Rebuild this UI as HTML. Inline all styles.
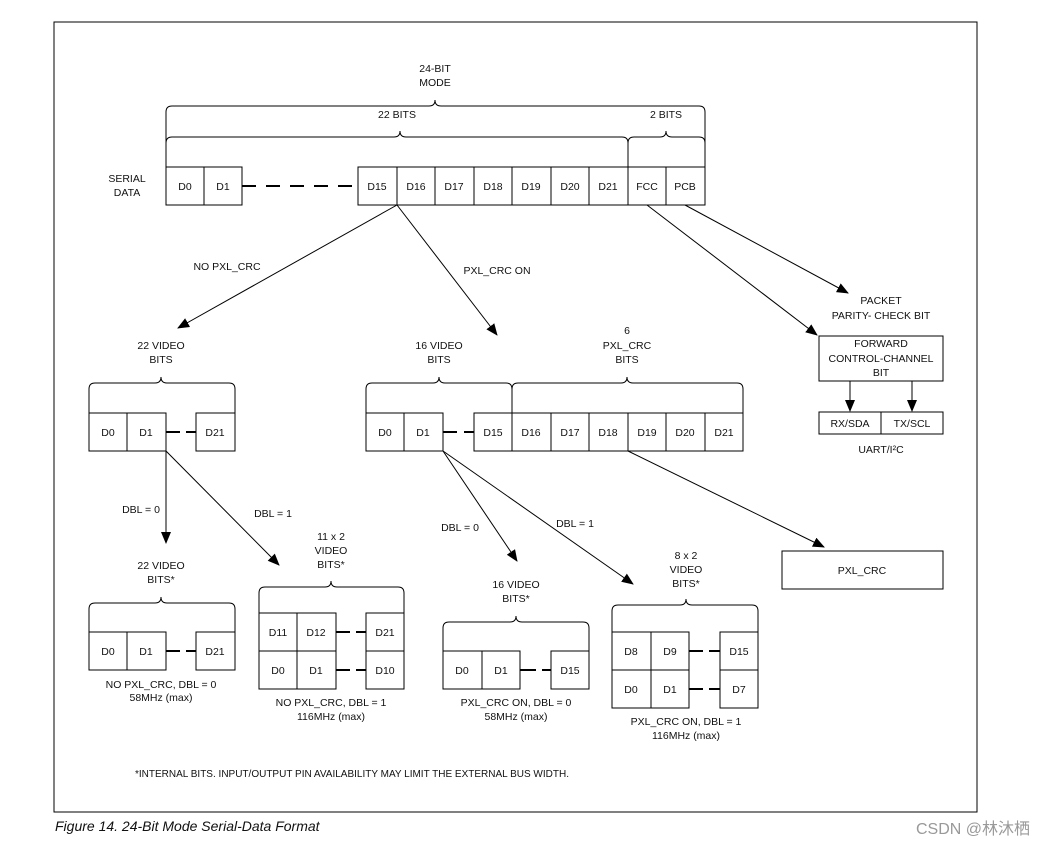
<!DOCTYPE html>
<html><head><meta charset="utf-8"><style>
body{margin:0;background:#fff}
svg text{font-family:"Liberation Sans",sans-serif;font-size:10.5px;fill:#111}
</style></head><body>
<svg width="1044" height="846" viewBox="0 0 1044 846" xmlns="http://www.w3.org/2000/svg">
<defs><marker id="a" markerWidth="12" markerHeight="10" refX="11" refY="5" orient="auto" markerUnits="userSpaceOnUse"><path d="M0,0 L12,5 L0,10 z" fill="#000"/></marker></defs>
<rect x="54" y="22" width="923" height="790" fill="none" stroke="#000" stroke-width="1"/>
<g fill="none" stroke="#000" stroke-width="1">
<path d="M166 167V112Q166 106 172 106H429Q435 106 435 100Q435 106 441 106H699Q705 106 705 112V167"/>
<path d="M166 167V143Q166 137 172 137H394Q400 137 400 131Q400 137 406 137H622Q628 137 628 143V167"/>
<path d="M628 167V143Q628 137 634 137H660Q666 137 666 131Q666 137 672 137H699Q705 137 705 143V167"/>
<path d="M89 413V389Q89 383 95 383H155Q161 383 161 377Q161 383 167 383H229Q235 383 235 389V413"/>
<path d="M366 413V389Q366 383 372 383H433Q439 383 439 377Q439 383 445 383H506Q512 383 512 389V413"/>
<path d="M512 413V389Q512 383 518 383H621Q627 383 627 377Q627 383 633 383H737Q743 383 743 389V451"/>
<path d="M89 632V609Q89 603 95 603H155Q161 603 161 597Q161 603 167 603H229Q235 603 235 609V632"/>
<path d="M259 613V593Q259 587 265 587H325Q331 587 331 581Q331 587 337 587H398Q404 587 404 593V613"/>
<path d="M443 651V628Q443 622 449 622H510Q516 622 516 616Q516 622 522 622H583Q589 622 589 628V651"/>
<path d="M612 632V611Q612 605 618 605H680Q686 605 686 599Q686 605 692 605H752Q758 605 758 611V632"/>
<!-- top row -->
<rect x="166" y="167" width="76" height="38"/><line x1="204" y1="167" x2="204" y2="205"/>
<rect x="358" y="167" width="347" height="38"/>
<path d="M397 167V205M435 167V205M474 167V205M512 167V205M551 167V205M589 167V205M628 167V205M666 167V205"/>
<line x1="242" y1="186" x2="358" y2="186" stroke-width="2" stroke-dasharray="14,10"/>
<!-- mid left -->
<rect x="89" y="413" width="77" height="38"/><line x1="127" y1="413" x2="127" y2="451"/>
<rect x="196" y="413" width="39" height="38"/>
<path d="M166 432H180M186 432H196" stroke-width="2"/>
<!-- mid middle -->
<rect x="366" y="413" width="77" height="38"/><line x1="404" y1="413" x2="404" y2="451"/>
<rect x="474" y="413" width="269" height="38"/>
<path d="M512 413V451M551 413V451M589 413V451M628 413V451M666 413V451M705 413V451"/>
<path d="M443 432H457M464 432H474" stroke-width="2"/>
<!-- forward box -->
<rect x="819" y="336" width="124" height="45"/>
<rect x="819" y="412" width="124" height="22"/><line x1="881" y1="412" x2="881" y2="434"/>
<rect x="782" y="551" width="161" height="38"/>
<!-- bottom -->
<rect x="89" y="632" width="77" height="38"/><line x1="127" y1="632" x2="127" y2="670"/>
<rect x="196" y="632" width="39" height="38"/><path d="M166 651H180M186 651H196" stroke-width="2"/>
<rect x="259" y="613" width="77" height="76"/><path d="M297 613V689M259 651H336"/>
<rect x="366" y="613" width="38" height="76"/><path d="M366 651H404"/>
<path d="M336 632H350M356 632H366M336 670H350M356 670H366" stroke-width="2"/>
<rect x="443" y="651" width="77" height="38"/><line x1="482" y1="651" x2="482" y2="689"/>
<rect x="551" y="651" width="38" height="38"/><path d="M520 670H536M542 670H551" stroke-width="2"/>
<rect x="612" y="632" width="77" height="76"/><path d="M651 632V708M612 670H689"/>
<rect x="720" y="632" width="38" height="76"/><path d="M720 670H758"/>
<path d="M689 651H703M709 651H720M689 689H703M709 689H720" stroke-width="2"/>
<!-- arrows -->
<g marker-end="url(#a)">
<line x1="397" y1="205" x2="178" y2="328"/>
<line x1="397" y1="205" x2="497" y2="335"/>
<line x1="647" y1="205" x2="817" y2="335"/>
<line x1="685" y1="205" x2="848" y2="293"/>
<line x1="850" y1="381" x2="850" y2="411"/>
<line x1="912" y1="381" x2="912" y2="411"/>
<line x1="166" y1="451" x2="166" y2="543"/>
<line x1="166" y1="451" x2="279" y2="565"/>
<line x1="443" y1="451" x2="517" y2="561"/>
<line x1="443" y1="451" x2="633" y2="584"/>
<line x1="628" y1="451" x2="824" y2="547"/>
</g>
</g>
<g text-anchor="middle">
<text x="435" y="72">24-BIT</text><text x="435" y="86">MODE</text>
<text x="397" y="118">22 BITS</text><text x="666" y="118">2 BITS</text>
<text x="127" y="182">SERIAL</text><text x="127" y="196">DATA</text>
<text x="185" y="190">D0</text><text x="223" y="190">D1</text>
<text x="377" y="190">D15</text><text x="416" y="190">D16</text><text x="454" y="190">D17</text><text x="493" y="190">D18</text><text x="531" y="190">D19</text><text x="570" y="190">D20</text><text x="608" y="190">D21</text><text x="647" y="190">FCC</text><text x="685" y="190">PCB</text>
<text x="227" y="270">NO PXL_CRC</text><text x="497" y="274">PXL_CRC ON</text>
<text x="881" y="304">PACKET</text><text x="881" y="319">PARITY- CHECK BIT</text>
<text x="881" y="347">FORWARD</text><text x="881" y="362">CONTROL-CHANNEL</text><text x="881" y="376">BIT</text>
<text x="850" y="427">RX/SDA</text><text x="912" y="427">TX/SCL</text><text x="881" y="453">UART/I²C</text>
<text x="161" y="349">22 VIDEO</text><text x="161" y="363">BITS</text>
<text x="439" y="349">16 VIDEO</text><text x="439" y="363">BITS</text>
<text x="627" y="334">6</text><text x="627" y="349">PXL_CRC</text><text x="627" y="363">BITS</text>
<text x="108" y="436">D0</text><text x="146" y="436">D1</text><text x="215" y="436">D21</text>
<text x="385" y="436">D0</text><text x="423" y="436">D1</text><text x="493" y="436">D15</text><text x="531" y="436">D16</text><text x="570" y="436">D17</text><text x="608" y="436">D18</text><text x="647" y="436">D19</text><text x="685" y="436">D20</text><text x="724" y="436">D21</text>
<text x="141" y="513">DBL = 0</text><text x="273" y="517">DBL = 1</text>
<text x="460" y="531">DBL = 0</text><text x="575" y="527">DBL = 1</text>
<text x="862" y="574">PXL_CRC</text>
<text x="161" y="569">22 VIDEO</text><text x="161" y="583">BITS*</text>
<text x="331" y="540">11 x 2</text><text x="331" y="554">VIDEO</text><text x="331" y="568">BITS*</text>
<text x="516" y="588">16 VIDEO</text><text x="516" y="602">BITS*</text>
<text x="686" y="559">8 x 2</text><text x="686" y="573">VIDEO</text><text x="686" y="587">BITS*</text>
<text x="108" y="655">D0</text><text x="146" y="655">D1</text><text x="215" y="655">D21</text>
<text x="278" y="636">D11</text><text x="316" y="636">D12</text><text x="385" y="636">D21</text>
<text x="278" y="674">D0</text><text x="316" y="674">D1</text><text x="385" y="674">D10</text>
<text x="462" y="674">D0</text><text x="501" y="674">D1</text><text x="570" y="674">D15</text>
<text x="631" y="655">D8</text><text x="670" y="655">D9</text><text x="739" y="655">D15</text>
<text x="631" y="693">D0</text><text x="670" y="693">D1</text><text x="739" y="693">D7</text>
<text x="161" y="688">NO PXL_CRC, DBL = 0</text><text x="161" y="701">58MHz (max)</text>
<text x="331" y="706">NO PXL_CRC, DBL = 1</text><text x="331" y="720">116MHz (max)</text>
<text x="516" y="706">PXL_CRC ON, DBL = 0</text><text x="516" y="720">58MHz (max)</text>
<text x="686" y="725">PXL_CRC ON, DBL = 1</text><text x="686" y="739">116MHz (max)</text>
</g>
<text x="135" y="777" style="font-size:10px">*INTERNAL BITS. INPUT/OUTPUT PIN AVAILABILITY MAY LIMIT THE EXTERNAL BUS WIDTH.</text>
<text x="55" y="831" style="font-size:14px;font-style:italic">Figure 14. 24-Bit Mode Serial-Data Format</text>
<text x="1030" y="834" text-anchor="end" style="font-family:'Liberation Sans','Noto Sans CJK SC',sans-serif;font-size:16px;fill:#999">CSDN @林沐栖</text>
</svg>
</body></html>
